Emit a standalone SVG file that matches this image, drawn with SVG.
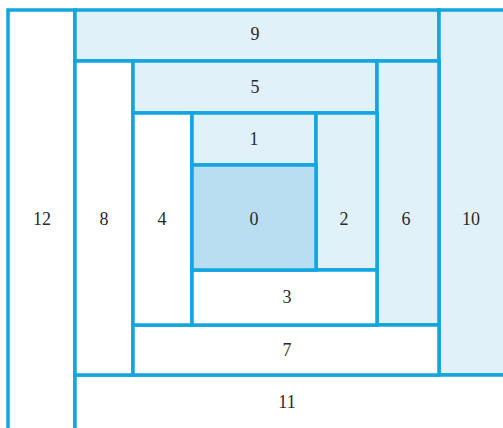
<svg xmlns="http://www.w3.org/2000/svg" width="503" height="428" viewBox="0 0 503 428">
<style>
.c{stroke:#12a5e0;stroke-width:3.5}
.w{fill:#ffffff}
.l{fill:#e0f1f9}
.m{fill:#b9def2}
text{font-family:"Liberation Serif","Times New Roman",serif;font-size:18px;fill:#2a2a2a;text-anchor:middle;dominant-baseline:central}
</style>
<rect width="503" height="428" fill="#ffffff"/>
<g id="n12"><rect class="c w" x="8" y="10" width="67" height="430"/><text x="42" y="219">12</text></g>
<g id="n9"><rect class="c l" x="75" y="10" width="364" height="51"/><text x="255" y="34">9</text></g>
<g id="n10"><rect class="c l" x="439" y="10" width="80" height="365"/><text x="471" y="219">10</text></g>
<g id="n11"><rect class="c w" x="75" y="375" width="440" height="70"/><text x="287" y="402">11</text></g>
<g id="n8"><rect class="c w" x="75" y="61" width="58" height="314"/><text x="104" y="219">8</text></g>
<g id="n5"><rect class="c l" x="133" y="61" width="244" height="52"/><text x="255" y="87">5</text></g>
<g id="n6"><rect class="c l" x="377" y="61" width="62" height="264"/><text x="406" y="219">6</text></g>
<g id="n7"><rect class="c w" x="133" y="325" width="306" height="50"/><text x="287" y="350">7</text></g>
<g id="n4"><rect class="c w" x="133" y="113" width="59" height="212"/><text x="162" y="219">4</text></g>
<g id="n1"><rect class="c l" x="192" y="113" width="124" height="52"/><text x="254" y="139">1</text></g>
<g id="n2"><rect class="c l" x="316" y="113" width="61" height="157"/><text x="344" y="219">2</text></g>
<g id="n3"><rect class="c w" x="192" y="270" width="185" height="55"/><text x="287" y="297">3</text></g>
<g id="n0"><rect class="c m" x="192" y="165" width="124" height="105"/><text x="254" y="219">0</text></g>
<g id="connectors"></g>
</svg>
